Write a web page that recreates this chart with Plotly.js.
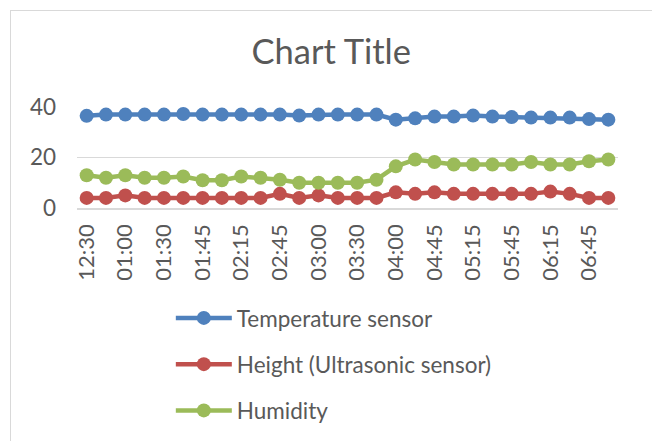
<!DOCTYPE html>
<html><head><meta charset="utf-8">
<script src="https://cdn.plot.ly/plotly-3.0.1.min.js"></script>
<style>
html,body{margin:0;padding:0;background:#fff;}
#wrap{position:relative;width:652px;height:441px;}
#chart{width:652px;height:441px;}
#frame{position:absolute;left:10px;top:10px;width:650px;height:440px;border:1.5px solid #d9d9d9;box-sizing:border-box;pointer-events:none;}
</style></head>
<body><div id="wrap"><div id="chart"></div><div id="frame"></div></div>
<script>
const times = ["12:30","12:45","01:00","01:15","01:30","01:40","01:45","02:00","02:15","02:30","02:45","02:50","03:00","03:15","03:30","03:45","04:00","04:30","04:45","05:00","05:15","05:30","05:45","06:00","06:15","06:30","06:45","07:00"];
const temperature = [36.5,37,37,37,37,37.2,37,37,37,37,37,36.6,37,37,37,37,35,35.5,36.2,36.2,36.6,36.2,36,35.8,35.8,35.8,35.2,35];
const height = [4,4,5,4,4,4,4,4,4,4,5.6,4,5,4,4,4,6.2,5.6,6.2,5.6,5.6,5.6,5.6,5.6,6.5,5.6,4,4];
const humidity = [13,12,13,12,12,12.5,11,11,12.5,12,11.2,10,10,10,10,11.2,16.5,19.2,18.2,17.2,17.2,17.2,17.2,18.2,17.2,17.2,18.5,19.2];
const seriesNames = ["Temperature sensor","Height (Ultrasonic sensor)","Humidity"];
const colors = ["#4f81bd","#c0504d","#9bbb59"];
const shownTicks = times.filter((t,i)=>i%2===0);
const yTicks = [0,20,40];

const font = "Lato, 'Open Sans', sans-serif";
const data = [temperature,height,humidity].map((vals,i)=>({
  type:"scatter", mode:"lines+markers", x:times, y:vals, name:seriesNames[i],
  legendgroup:"g"+i,
  line:{color:colors[i],width:4.5}, marker:{color:colors[i],size:14}
}));
const layout = {
  width:652, height:441,
  margin:{l:77,r:34,t:107,b:233,autoexpand:false},
  paper_bgcolor:"#fff", plot_bgcolor:"#fff",
  font:{family:font,color:"#595959",size:22.5},
  title:{text:"Chart Title",font:{family:font,size:34.5,color:"#595959"},x:0.508,xanchor:"center",xref:"container",y:0.882,yref:"container",yanchor:"middle"},
  xaxis:{type:"category",range:[-0.5,27.5],tickmode:"array",tickvals:shownTicks,ticktext:shownTicks,tickangle:-90,automargin:false,
    showgrid:false,showline:true,linecolor:"#d9d9d9",linewidth:1.5,ticks:"",tickfont:{size:22,color:"#595959"},ticklabelstandoff:6,fixedrange:true},
  yaxis:{range:[0,40],tickvals:yTicks,showgrid:true,gridcolor:"#d9d9d9",gridwidth:1.5,zeroline:false,showline:false,ticks:"",automargin:false,
    tickfont:{size:22.5,color:"#595959"},ticklabelstandoff:20},
  showlegend:true,
  legend:{orientation:"v",xref:"container",yref:"container",x:0.262,y:0.327,xanchor:"left",yanchor:"top",
    traceorder:"grouped",tracegroupgap:14,font:{size:22.5,color:"#595959"},itemwidth:56,bgcolor:"rgba(0,0,0,0)"}
};
Plotly.newPlot("chart",data,layout,{displayModeBar:false,staticPlot:true});
</script></body></html>
